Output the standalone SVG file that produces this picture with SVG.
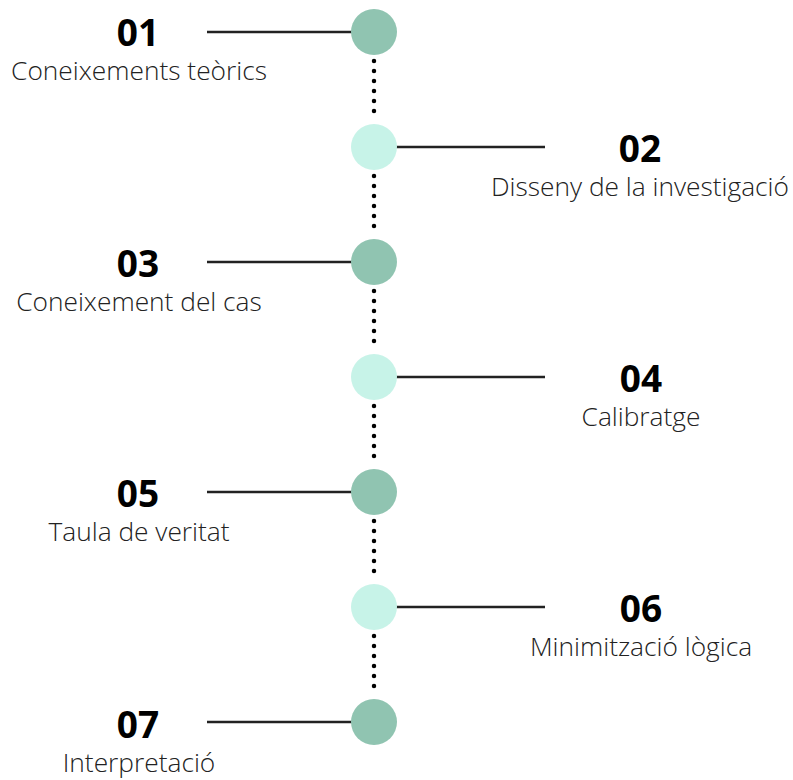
<svg xmlns="http://www.w3.org/2000/svg" width="793" height="780" viewBox="0 0 793 780">
<style>
.num{font-family:"Open Sans","Liberation Sans",sans-serif;font-weight:bold;font-size:37px;fill:#000;text-anchor:middle}
.lbl{font-family:"Open Sans","Liberation Sans",sans-serif;font-weight:300;font-size:26.3px;fill:#222;text-anchor:middle}
.ln{stroke:#222;stroke-width:2.5;fill:none}
.dot{stroke:#000;stroke-width:4.5;stroke-linecap:round;stroke-dasharray:0 10;fill:none}
.dk{fill:#90C4B1}
.lt{fill:#C7F3E8}
</style>
<rect width="793" height="780" fill="#fff"/>
<g id="connectors">
<line class="dot" x1="374" y1="61" x2="374" y2="121"/>
<line class="dot" x1="374" y1="176" x2="374" y2="236"/>
<line class="dot" x1="374" y1="291" x2="374" y2="351"/>
<line class="dot" x1="374" y1="406" x2="374" y2="466"/>
<line class="dot" x1="374" y1="521" x2="374" y2="581"/>
<line class="dot" x1="374" y1="636" x2="374" y2="696"/>
<line class="ln" x1="207" y1="32" x2="352" y2="32"/>
<line class="ln" x1="396" y1="147" x2="545" y2="147"/>
<line class="ln" x1="207" y1="262" x2="352" y2="262"/>
<line class="ln" x1="396" y1="377" x2="545" y2="377"/>
<line class="ln" x1="207" y1="492" x2="352" y2="492"/>
<line class="ln" x1="396" y1="607" x2="545" y2="607"/>
<line class="ln" x1="207" y1="722" x2="352" y2="722"/>
</g>
<g id="n1"><circle class="dk" cx="374" cy="32" r="23"/><text class="num" x="138" y="46">01</text><text class="lbl" x="139" y="80">Coneixements teòrics</text></g>
<g id="n2"><circle class="lt" cx="374" cy="147" r="23"/><text class="num" x="640" y="162">02</text><text class="lbl" x="640" y="196">Disseny de la investigació</text></g>
<g id="n3"><circle class="dk" cx="374" cy="262" r="23"/><text class="num" x="138" y="277">03</text><text class="lbl" x="139" y="311">Coneixement del cas</text></g>
<g id="n4"><circle class="lt" cx="374" cy="377" r="23"/><text class="num" x="641" y="392">04</text><text class="lbl" x="641" y="426">Calibratge</text></g>
<g id="n5"><circle class="dk" cx="374" cy="492" r="23"/><text class="num" x="138" y="507">05</text><text class="lbl" x="139" y="541">Taula de veritat</text></g>
<g id="n6"><circle class="lt" cx="374" cy="607" r="23"/><text class="num" x="641" y="622">06</text><text class="lbl" x="641" y="656">Minimització lògica</text></g>
<g id="n7"><circle class="dk" cx="374" cy="722" r="23"/><text class="num" x="138" y="738">07</text><text class="lbl" x="139" y="772">Interpretació</text></g>
</svg>
